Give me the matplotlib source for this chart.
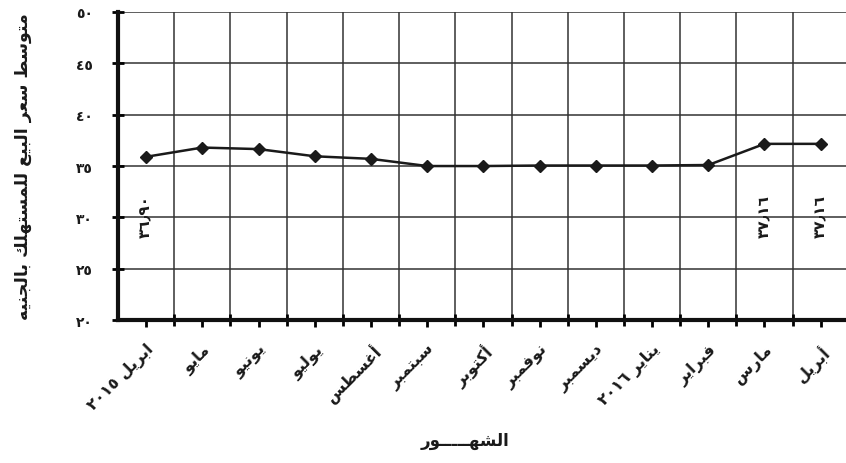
import matplotlib
matplotlib.use("Agg")
import matplotlib.pyplot as plt
import numpy as np

# data
months = ["ابريل ٢٠١٥", "مايو", "يونيو", "يوليو", "أغسطس", "سبتمبر", "أكتوبر",
          "نوفمبر", "ديسمبر", "يناير ٢٠١٦", "فبراير", "مارس", "أبريل"]
prices = [35.9, 36.8, 36.65, 35.95, 35.7, 35.0, 35.0, 35.05, 35.05, 35.05, 35.1, 37.16, 37.16]
yticks = [20, 25, 30, 35, 40, 45, 50]
ytick_labels = ["٢٠", "٢٥", "٣٠", "٣٥", "٤٠", "٤٥", "٥٠"]
value_labels = {0: "٣٦٫٩٠", 11: "٣٧٫١٦", 12: "٣٧٫١٦"}
ylabel = "متوسط سعر البيع للمستهلك بالجنيه"
xlabel = "الشهـــــور"

# matplotlib has no arabic shaping, so pick presentation forms by hand
ISO = {'ا': 0xFE8D, 'أ': 0xFE83, 'إ': 0xFE87, 'آ': 0xFE81, 'ب': 0xFE8F, 'ت': 0xFE95,
       'ث': 0xFE99, 'ج': 0xFE9D, 'ح': 0xFEA1, 'خ': 0xFEA5, 'د': 0xFEA9, 'ذ': 0xFEAB,
       'ر': 0xFEAD, 'ز': 0xFEAF, 'س': 0xFEB1, 'ش': 0xFEB5, 'ص': 0xFEB9, 'ض': 0xFEBD,
       'ط': 0xFEC1, 'ظ': 0xFEC5, 'ع': 0xFEC9, 'غ': 0xFECD, 'ف': 0xFED1, 'ق': 0xFED5,
       'ك': 0xFED9, 'ل': 0xFEDD, 'م': 0xFEE1, 'ن': 0xFEE5, 'ه': 0xFEE9, 'و': 0xFEED,
       'ى': 0xFEEF, 'ي': 0xFEF1, 'ة': 0xFE93}
RIGHT_ONLY = set('اأإآدذرزوىة')
TATWEEL = 'ـ'


def shape_word(w):
    out = []
    for i, c in enumerate(w):
        if c not in ISO:
            out.append(c)
            continue
        prev = w[i - 1] if i > 0 else ''
        nxt = w[i + 1] if i + 1 < len(w) else ''
        jp = prev == TATWEEL or (prev in ISO and prev not in RIGHT_ONLY)
        jn = c not in RIGHT_ONLY and (nxt == TATWEEL or nxt in ISO)
        base = ISO[c]
        if jp and jn:
            out.append(chr(base + 3))
        elif jp:
            out.append(chr(base + 1))
        elif jn:
            out.append(chr(base + 2))
        else:
            out.append(chr(base))
    return ''.join(out)


def ar(s):
    words = []
    for w in s.split(' '):
        if any(ch in ISO or ch == TATWEEL for ch in w):
            words.append(shape_word(w)[::-1])
        else:
            words.append(w)
    return ' '.join(words[::-1])


plt.rcParams['font.family'] = ['DejaVu Sans']
ink = '#1a1a1a'

fig = plt.figure(figsize=(8.46, 4.64), dpi=100)
ax = fig.add_axes([0.1395, 0.308, 0.8605, 0.664])

x = np.arange(len(months))
ax.plot(x, prices, color=ink, lw=1.8, marker='D', ms=6, mfc=ink, mec=ink, zorder=3)

for i, txt in value_labels.items():
    ax.text(x[i], 30.2, txt, rotation=90, ha='center', va='center',
            fontsize=11, color=ink, fontweight='bold')

ax.set_xlim(-0.5, 12.45)
ax.set_ylim(20, 50)
ax.set_yticks(yticks)
ax.set_yticklabels(ytick_labels, fontsize=10, fontweight='bold', color=ink)
ax.set_xticks(x)
ax.set_xticklabels([ar(m) for m in months], rotation=45, ha='right', va='top',
                   rotation_mode='anchor', fontsize=11.5, fontweight='bold', color=ink)
ax.set_xticks(np.arange(0.5, 12.5, 1), minor=True)

ax.grid(True, which='major', axis='y', color='#333333', lw=1.1)
ax.grid(True, which='minor', axis='x', color='#333333', lw=1.1)
ax.set_axisbelow(True)

for side in ['top', 'right']:
    ax.spines[side].set_visible(False)
for side in ['left', 'bottom']:
    ax.spines[side].set_linewidth(3)
    ax.spines[side].set_color('#111111')

ax.tick_params(axis='y', which='major', direction='inout', length=8, width=2, pad=14)
ax.tick_params(axis='x', which='major', direction='out', length=5, width=2, pad=10)
ax.tick_params(axis='x', which='minor', direction='inout', length=8, width=2)

fig.text(0.027, 0.64, ar(ylabel), rotation=90, ha='center', va='center',
         fontsize=12.5, fontweight='bold', color=ink)
fig.text(0.55, 0.05, ar(xlabel), ha='center', va='center',
         fontsize=12, fontweight='bold', color=ink)

fig.savefig('out.png', dpi=100, facecolor='white')
